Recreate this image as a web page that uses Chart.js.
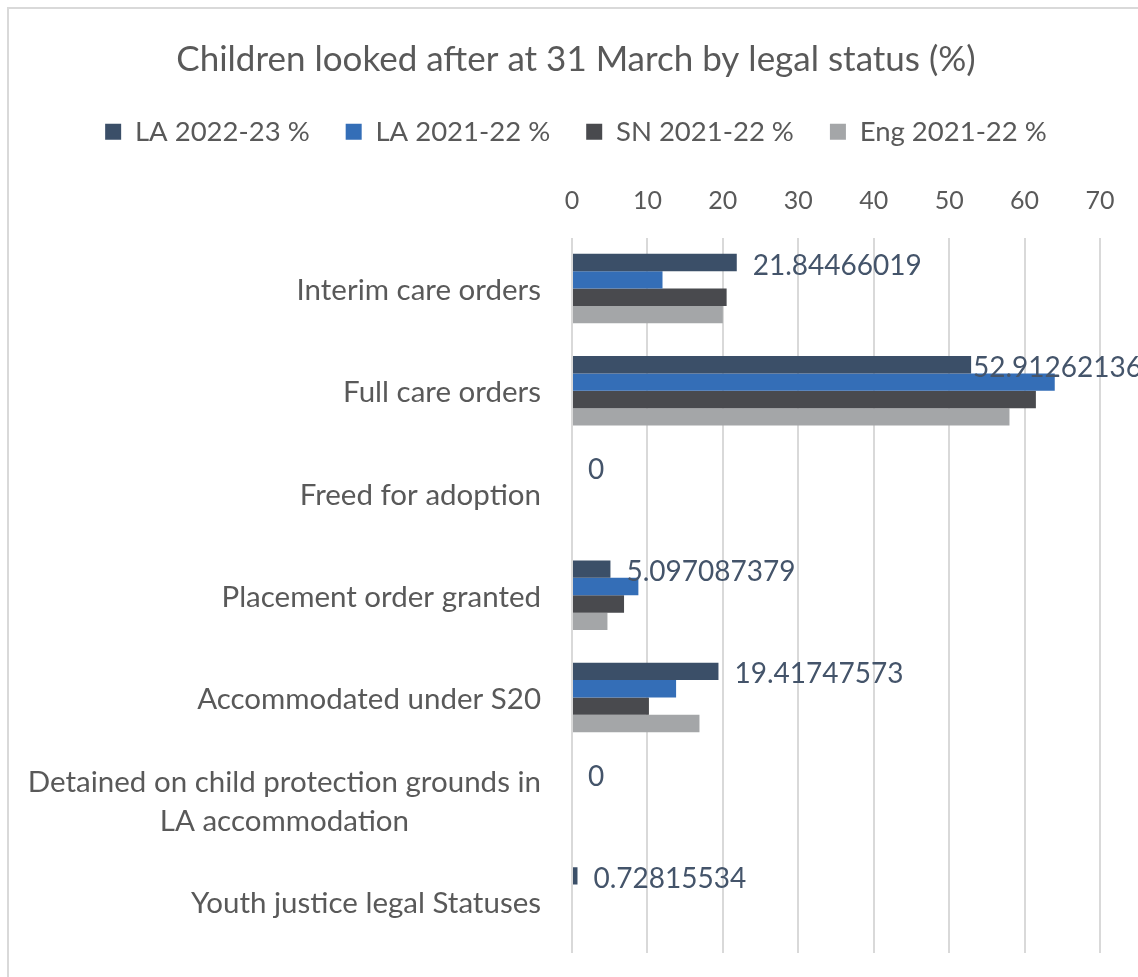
<!DOCTYPE html>
<html><head><meta charset="utf-8">
<script src="https://cdn.jsdelivr.net/npm/chart.js@4"></script>
<style>
html,body{margin:0;padding:0;background:#fff;overflow:hidden;width:1138px;height:977px;}
#frame{position:absolute;left:7px;top:7px;width:1300px;height:1200px;border:2px solid #D9D9D9;box-sizing:border-box;}
#wrap{position:absolute;left:0;top:0;width:1138px;height:977px;}
</style></head><body>
<div id="frame"></div>
<div id="wrap"><canvas id="c" width="1138" height="977"></canvas></div>
<script>
const titleText = 'Children looked after at 31 March by legal status (%)';
const categories = [
  'Interim care orders',
  'Full care orders',
  'Freed for adoption',
  'Placement order granted',
  'Accommodated under S20',
  ['Detained on child protection grounds in', 'LA accommodation'],
  'Youth justice legal Statuses'
];
const seriesNames = ['LA 2022-23 %', 'LA 2021-22 %', 'SN 2021-22 %', 'Eng 2021-22 %'];
const la2223 = [21.84466019, 52.91262136, 0, 5.097087379, 19.41747573, 0, 0.72815534];
const la2122 = [12.0, 64.0, 0, 8.8, 13.8, 0, 0];
const sn2122 = [20.5, 61.5, 0, 6.9, 10.2, 0, 0];
const eng2122 = [20.0, 58.0, 0, 4.7, 16.9, 0, 0];
const xTicks = [0, 10, 20, 30, 40, 50, 60, 70];
const colors = ['#3B4F68', '#346EB7', '#494A4E', '#A4A6A8'];

const FONT = 'Lato, "Open Sans", sans-serif';
const TXT = '#595959';
const CAT_SIZE = 29.5;
const CAT_LH = 39;
const PAD_LEFT = 52;
const PLOT_LEFT = 572;

const yLabelPlugin = {
  id: 'yLabels',
  afterDraw(chart) {
    const ys = chart.scales.y, ctx = chart.ctx;
    ctx.save();
    ctx.font = CAT_SIZE + 'px ' + FONT;
    ctx.fillStyle = TXT;
    ctx.textBaseline = 'middle';
    ctx.textAlign = 'center';
    const right = chart.chartArea.left - 31;
    categories.forEach((lab, i) => {
      const lines = [].concat(lab);
      const w = Math.max(...lines.map(l => ctx.measureText(l).width));
      const cx = right - w / 2;
      const y0 = ys.getPixelForTick(i) + 2 - (lines.length - 1) * CAT_LH / 2;
      lines.forEach((l, j) => ctx.fillText(l, cx, y0 + j * CAT_LH));
    });
    ctx.restore();
  }
};

const dataLabelPlugin = {
  id: 'dataLabels',
  afterDatasetsDraw(chart) {
    const ctx = chart.ctx;
    const meta = chart.getDatasetMeta(0);
    ctx.save();
    ctx.font = '28px ' + FONT;
    ctx.fillStyle = '#44546A';
    ctx.textBaseline = 'middle';
    ctx.textAlign = 'left';
    meta.data.forEach((bar, i) => {
      const txt = String(la2223[i]);
      const w = ctx.measureText(txt).width;
      let x = bar.x + 16;
      const limit = chart.width + 4;
      if (x + w > limit) x = limit - w;
      ctx.fillText(txt, x, bar.y + 3);
    });
    ctx.restore();
  }
};

const allSeries = [la2223, la2122, sn2122, eng2122];
new Chart(document.getElementById('c'), {
  type: 'bar',
  data: {
    labels: categories,
    datasets: allSeries.map((d, i) => ({
      label: seriesNames[i],
      data: d,
      backgroundColor: colors[i],
      borderWidth: 0,
      categoryPercentage: 0.68,
      barPercentage: 1.0
    }))
  },
  options: {
    indexAxis: 'y',
    responsive: false,
    animation: false,
    devicePixelRatio: 1,
    layout: { padding: { left: PAD_LEFT, right: 38, top: 0, bottom: 24 } },
    plugins: {
      title: {
        display: true, text: titleText, color: TXT,
        font: { family: FONT, size: 35, weight: 'normal' },
        padding: { top: 39, bottom: 1 }
      },
      legend: {
        display: true, position: 'top',
        labels: {
          color: TXT, font: { family: FONT, size: 27.5 },
          boxWidth: 16, boxHeight: 16, padding: 36
        }
      },
      tooltip: { enabled: false }
    },
    scales: {
      x: {
        position: 'top', min: 0, max: 70,
        afterBuildTicks(scale) { scale.ticks = xTicks.map(v => ({ value: v })); },
        ticks: { color: TXT, font: { family: FONT, size: 25 }, padding: 22 },
        grid: { color: '#D9D9D9', lineWidth: 2, drawTicks: false },
        border: { display: false },
        afterFit(scale) { scale.height = 82; }
      },
      y: {
        ticks: { display: false },
        grid: { display: false },
        border: { display: false },
        afterFit(scale) { scale.width = PLOT_LEFT - PAD_LEFT; }
      }
    }
  },
  plugins: [yLabelPlugin, dataLabelPlugin]
});
</script>
</body></html>
